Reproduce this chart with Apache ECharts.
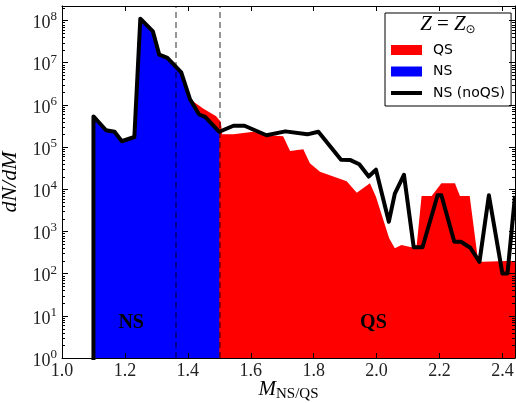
<!DOCTYPE html>
<html><head><meta charset="utf-8">
<script src="https://cdn.jsdelivr.net/npm/echarts@6/dist/echarts.min.js"></script>
<style>html,body{margin:0;padding:0;background:#fff}#c{width:516px;height:403px}</style>
</head><body><div id="c"></div>
<script>
// ---- data ----
const noqsMass = [1.1, 1.1, 1.14, 1.167, 1.19, 1.23, 1.249, 1.289, 1.309, 1.335, 1.379, 1.407, 1.436, 1.455, 1.5, 1.545, 1.58, 1.65, 1.71, 1.78, 1.815, 1.887, 1.917, 1.945, 1.975, 1.998, 2.039, 2.058, 2.087, 2.118, 2.146, 2.194, 2.206, 2.247, 2.268, 2.298, 2.327, 2.357, 2.4, 2.416, 2.44];
const noqsDN   = [0.1, 5.3e5, 2.5e5, 2.3e5, 1.37e5, 1.73e5, 1.1e8, 5.5e7, 1.55e7, 1.3e7, 5.9e6, 1.35e6, 5.9e5, 5.2e5, 2.3e5, 3.2e5, 3.2e5, 1.9e5, 2.35e5, 2.0e5, 2.3e5, 5.0e4, 4.9e4, 3.9e4, 2.0e4, 2.9e4, 1.7e3, 7.9e3, 2.2e4, 420, 420, 7.2e3, 7.2e3, 570, 570, 410, 190, 7.2e3, 100, 100, 6.9e3];

const nsMass = [1.1, 1.14, 1.167, 1.19, 1.23, 1.249, 1.289, 1.309, 1.335, 1.379, 1.407, 1.436, 1.455, 1.5];
const nsDN   = [5.3e5, 2.5e5, 2.3e5, 1.37e5, 1.73e5, 1.1e8, 5.5e7, 1.55e7, 1.3e7, 5.9e6, 1.35e6, 5.9e5, 5.2e5, 2.3e5];

const qsMass = [1.379, 1.407, 1.45, 1.49, 1.505, 1.509, 1.545, 1.608, 1.651, 1.703, 1.725, 1.767, 1.788, 1.82, 1.905, 1.937, 1.979, 1.998, 2.04, 2.058, 2.079, 2.111, 2.127, 2.143, 2.175, 2.206, 2.249, 2.265, 2.296, 2.323, 2.338, 2.413, 2.44];
const qsDN   = [5.9e6, 1.35e6, 8.1e5, 5.4e5, 3.9e5, 2.0e5, 2.0e5, 2.3e5, 1.9e5, 1.8e5, 8.1e4, 8.9e4, 4.1e4, 2.6e4, 1.55e4, 8.3e3, 1.38e4, 6.6e3, 690, 400, 475, 420, 430, 6.9e3, 6.9e3, 1.38e4, 1.38e4, 6.9e3, 6.9e3, 190, 190, 200, 200];

const dashedMass = [1.36, 1.5];
const regionNames = ['NS', 'QS'];
const regionMass  = [1.22, 1.99];
const regionDN    = [6.8, 6.8];

const xMin = 1.0, xMax = 2.44, xStep = 0.2;
const yMin = 1, yMax = 2.2e8;

// ---- build ----
const zip = (a, b) => a.map((v, i) => [v, b[i]]);
const minorVals = [];
for (let n = 0; n <= 8; n++) for (let k = 2; k <= 9; k++) { const v = k * Math.pow(10, n); if (v < yMax) minorVals.push([xMin, v]); }

const serif = 'Liberation Serif';
const tickColor = '#000';
const labelColor = '#222';

const xAxisBase = {
  type: 'value', min: xMin, max: xMax, interval: xStep, z: 10,
  axisLine: { show: true, onZero: false, lineStyle: { color: '#000', width: 1 } },
  axisTick: { show: true, inside: true, length: 5, lineStyle: { color: tickColor, width: 1 } },
  splitLine: { show: false }, minorTick: { show: false }
};
const yAxisBase = {
  type: 'log', logBase: 10, min: yMin, max: yMax, z: 10,
  axisLine: { show: true, onZero: false, lineStyle: { color: '#000', width: 1 } },
  axisTick: { show: true, inside: true, length: 6, lineStyle: { color: tickColor, width: 1 } },
  splitLine: { show: false }, minorTick: { show: false }
};

const chart = echarts.init(document.getElementById('c'), null, { renderer: 'canvas' });
chart.setOption({
  animation: false,
  backgroundColor: '#fff',
  grid: { left: 62, right: 1, top: 6, bottom: 45, containLabel: false, outerBoundsMode: 'none' },
  xAxis: [
    Object.assign({}, xAxisBase, {
      position: 'bottom',
      name: '{m|M}{s|NS/QS}', nameLocation: 'middle', nameGap: 21, nameMoveOverlap: false,
      nameTextStyle: { rich: {
        m: { fontFamily: serif, fontStyle: 'italic', fontSize: 21, color: '#000', verticalAlign: 'top', lineHeight: 22 },
        s: { fontFamily: serif, fontSize: 15, color: '#000', verticalAlign: 'top', lineHeight: 15, padding: [8, 0, 0, 0] }
      } },
      axisLabel: { show: true, margin: 4, fontFamily: serif, fontSize: 18, color: labelColor, showMaxLabel: false,
        formatter: v => (Math.abs(v / xStep - Math.round(v / xStep)) < 1e-6 ? v.toFixed(1) : '') }
    }),
    Object.assign({}, xAxisBase, { position: 'top', axisLabel: { show: false } })
  ],
  yAxis: [
    Object.assign({}, yAxisBase, {
      position: 'left',
      name: 'dN/dM', nameLocation: 'middle', nameGap: 35, nameRotate: 90,
      nameTextStyle: { fontFamily: serif, fontStyle: 'italic', fontSize: 22, color: '#000' },
      axisLabel: { show: true, margin: 5, showMaxLabel: false,
        formatter: v => { const e = Math.log10(v); if (Math.abs(e - Math.round(e)) > 1e-6) return ''; return '{b|10}{s|' + Math.round(e) + '}'; },
        rich: {
          b: { fontFamily: serif, fontSize: 18, color: labelColor, verticalAlign: 'top', lineHeight: 20, padding: [4, 0, 0, 0] },
          s: { fontFamily: serif, fontSize: 13, color: labelColor, verticalAlign: 'top', lineHeight: 13 }
        } }
    }),
    Object.assign({}, yAxisBase, { position: 'right', axisLabel: { show: false } })
  ],
  legend: {
    orient: 'vertical', left: 385, top: 13,
    padding: [30, 6, 6, 6], itemGap: 7.5, itemWidth: 31, itemHeight: 10,
    borderColor: '#000', borderWidth: 1, borderRadius: 0, backgroundColor: '#fff',
    symbolKeepAspect: true,
    textStyle: { fontFamily: 'DejaVu Sans', fontSize: 14, color: '#000', lineHeight: 14, padding: [0, 0, 0, 6] },
    selectedMode: false,
    data: [ { name: 'QS', icon: 'rect' }, { name: 'NS', icon: 'rect' },
            { name: 'NS (noQS)', icon: 'path://M0,0L31,0L31,4L0,4Z', itemStyle: { color: '#000' } } ]
  },
  series: [
    { name: 'QS', type: 'line', data: zip(qsMass, qsDN), showSymbol: false, symbol: 'none',
      color: '#ff0000', lineStyle: { width: 0, color: '#ff0000' },
      areaStyle: { color: '#ff0000', opacity: 1, origin: 'start' }, z: 2 },
    { name: 'NS', type: 'line', data: zip(nsMass, nsDN), showSymbol: false, symbol: 'none',
      color: '#0000ff', lineStyle: { width: 0, color: '#0000ff' },
      areaStyle: { color: '#0000ff', opacity: 1, origin: 'start' }, z: 2,
      markLine: { silent: true, symbol: ['none', 'none'], label: { show: false },
        lineStyle: { color: 'rgba(0,0,0,0.55)', width: 1.5, type: [6, 4] },
        data: dashedMass.map(m => ({ xAxis: m })) } },
    { name: 'NS (noQS)', type: 'line', data: zip(noqsMass, noqsDN), showSymbol: false, symbol: 'none',
      color: '#000', lineStyle: { width: 4, color: '#000', join: 'round' }, z: 3 },
    { name: 'minor', type: 'custom', data: minorVals, z: 11, silent: true,
      renderItem: (params, api) => {
        const cs = params.coordSys;
        const y = Math.round(api.coord([xMin, api.value(1)])[1]) + 0.5;
        return { type: 'group', children: [
          { type: 'line', shape: { x1: cs.x, y1: y, x2: cs.x + 3, y2: y }, style: { stroke: '#000', lineWidth: 1 } },
          { type: 'line', shape: { x1: cs.x + cs.width - 3, y1: y, x2: cs.x + cs.width, y2: y }, style: { stroke: '#000', lineWidth: 1 } }
        ] };
      } }
  ]
});

const g = [{
  type: 'text', x: 448, y: 25, z: 100,
  style: { text: '{i|Z} {r|=} {i|Z}{s|⊙}', align: 'center', verticalAlign: 'middle',
    fontFamily: serif, fontSize: 20, fill: '#000',
    rich: {
      i: { fontFamily: serif, fontStyle: 'italic', fontSize: 21, fill: '#000', verticalAlign: 'top', lineHeight: 22 },
      r: { fontFamily: serif, fontSize: 21, fill: '#000', verticalAlign: 'top', lineHeight: 22 },
      s: { fontFamily: 'DejaVu Sans', fontSize: 12, fill: '#000', verticalAlign: 'top', lineHeight: 12, padding: [10, 0, 0, 0] }
    } }
}];
regionNames.forEach((nm, i) => {
  const p = chart.convertToPixel({ gridIndex: 0 }, [regionMass[i], regionDN[i]]);
  g.push({ type: 'text', x: p[0], y: p[1], z: 100,
    style: { text: nm, align: 'center', verticalAlign: 'middle', fontFamily: serif, fontWeight: 'bold', fontSize: 20, fill: '#000' } });
});
chart.setOption({ graphic: g });
</script></body></html>
